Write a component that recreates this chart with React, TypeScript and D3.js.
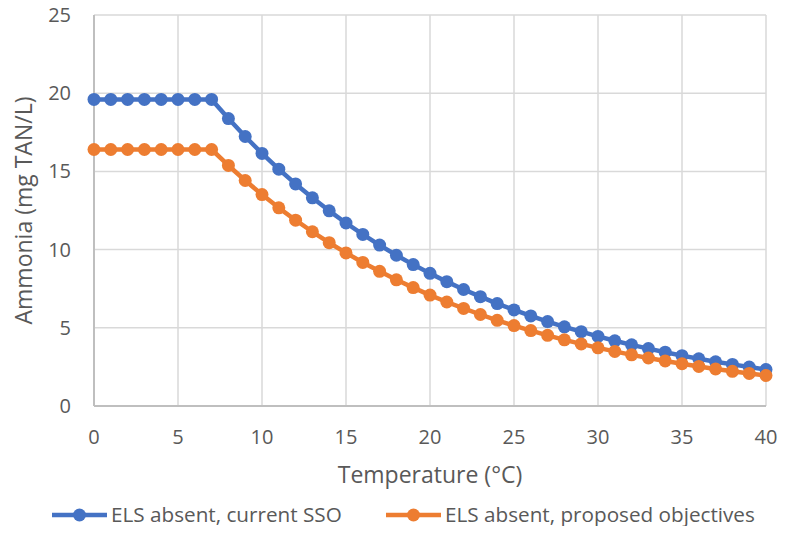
import { useEffect, useRef } from 'react'
import * as d3 from 'd3'

// temperature (°C)
const temperatures = d3.range(0, 41)

// ELS absent, current SSO (mg TAN/L)
const currentSSO = [
  19.6, 19.6, 19.6, 19.6, 19.6, 19.6, 19.6, 19.6, 18.38, 17.23, 16.15, 15.14,
  14.2, 13.31, 12.48, 11.7, 10.97, 10.29, 9.64, 9.04, 8.48, 7.95, 7.45, 6.99,
  6.55, 6.14, 5.76, 5.4, 5.06, 4.75, 4.45, 4.17, 3.91, 3.67, 3.44, 3.22, 3.02,
  2.83, 2.66, 2.49, 2.33,
]

// ELS absent, proposed objectives (mg TAN/L)
const proposedObjectives = [
  16.4, 16.4, 16.4, 16.4, 16.4, 16.4, 16.4, 16.4, 15.38, 14.42, 13.52, 12.67,
  11.88, 11.14, 10.44, 9.79, 9.18, 8.61, 8.07, 7.57, 7.09, 6.65, 6.24, 5.85,
  5.48, 5.14, 4.82, 4.52, 4.23, 3.97, 3.72, 3.49, 3.27, 3.07, 2.88, 2.7, 2.53,
  2.37, 2.22, 2.08, 1.95,
]

const xTicks = [0, 5, 10, 15, 20, 25, 30, 35, 40]
const yTicks = [0, 5, 10, 15, 20, 25]

const seriesNames = ['ELS absent, current SSO', 'ELS absent, proposed objectives']
const seriesColors = ['#4472C4', '#ED7D31']

const App = () => {
  const svgRef = useRef<SVGSVGElement | null>(null)

  useEffect(() => {
    if (!svgRef.current) return
    const svg = d3.select(svgRef.current)
    svg.selectAll('*').remove()

    const width = 787
    const height = 534
    const margin = { top: 15, right: 21, bottom: 128, left: 94 }
    const innerW = width - margin.left - margin.right
    const innerH = height - margin.top - margin.bottom
    const font = '"Open Sans", sans-serif'
    const textColor = '#595959'

    svg.attr('width', width).attr('height', height)

    svg
      .append('rect')
      .attr('width', width)
      .attr('height', height)
      .attr('fill', 'white')

    const g = svg
      .append('g')
      .attr('transform', `translate(${margin.left},${margin.top})`)

    const x = d3.scaleLinear().domain([0, 40]).range([0, innerW])
    const y = d3.scaleLinear().domain([0, 25]).range([innerH, 0])

    // grid lines
    g.append('g')
      .selectAll('line')
      .data(yTicks)
      .join('line')
      .attr('x1', 0)
      .attr('x2', innerW)
      .attr('y1', (d) => y(d))
      .attr('y2', (d) => y(d))
      .attr('stroke', '#D9D9D9')
      .attr('stroke-width', 1.5)

    g.append('g')
      .selectAll('line')
      .data(xTicks)
      .join('line')
      .attr('x1', (d) => x(d))
      .attr('x2', (d) => x(d))
      .attr('y1', 0)
      .attr('y2', innerH)
      .attr('stroke', '#D9D9D9')
      .attr('stroke-width', 1.5)

    // axis lines
    g.append('line')
      .attr('x1', 0)
      .attr('x2', innerW)
      .attr('y1', innerH)
      .attr('y2', innerH)
      .attr('stroke', '#BFBFBF')
      .attr('stroke-width', 2)
    g.append('line')
      .attr('x1', 0)
      .attr('x2', 0)
      .attr('y1', 0)
      .attr('y2', innerH)
      .attr('stroke', '#BFBFBF')
      .attr('stroke-width', 2)

    // tick labels
    g.append('g')
      .selectAll('text')
      .data(yTicks)
      .join('text')
      .attr('x', -23)
      .attr('y', (d) => y(d))
      .attr('dy', '0.35em')
      .attr('text-anchor', 'end')
      .attr('font-family', font)
      .attr('font-size', 20)
      .attr('fill', textColor)
      .text((d) => d)

    g.append('g')
      .selectAll('text')
      .data(xTicks)
      .join('text')
      .attr('x', (d) => x(d))
      .attr('y', innerH + 38)
      .attr('text-anchor', 'middle')
      .attr('font-family', font)
      .attr('font-size', 20)
      .attr('fill', textColor)
      .text((d) => d)

    // axis titles
    svg
      .append('text')
      .attr('x', margin.left + innerW / 2)
      .attr('y', 483)
      .attr('text-anchor', 'middle')
      .attr('font-family', font)
      .attr('font-size', 23)
      .attr('fill', textColor)
      .text('Temperature (°C)')

    svg
      .append('text')
      .attr('transform', `translate(32,${margin.top + innerH / 2}) rotate(-90)`)
      .attr('text-anchor', 'middle')
      .attr('font-family', font)
      .attr('font-size', 23)
      .attr('fill', textColor)
      .text('Ammonia (mg TAN/L)')

    // series
    const allSeries = [currentSSO, proposedObjectives]
    allSeries.forEach((values, i) => {
      const pts = temperatures.map((t, j) => ({ t, v: values[j] }))
      const line = d3
        .line<{ t: number; v: number }>()
        .x((d) => x(d.t))
        .y((d) => y(d.v))
      g.append('path')
        .datum(pts)
        .attr('fill', 'none')
        .attr('stroke', seriesColors[i])
        .attr('stroke-width', 4.5)
        .attr('stroke-linejoin', 'round')
        .attr('d', line)
      g.append('g')
        .selectAll('circle')
        .data(pts)
        .join('circle')
        .attr('cx', (d) => x(d.t))
        .attr('cy', (d) => y(d.v))
        .attr('r', 6.5)
        .attr('fill', seriesColors[i])
    })

    // legend
    const legendX = [52, 386]
    const legendY = 515
    seriesNames.forEach((name, i) => {
      const lg = svg.append('g').attr('transform', `translate(${legendX[i]},${legendY})`)
      lg.append('line')
        .attr('x1', 0)
        .attr('x2', 55)
        .attr('stroke', seriesColors[i])
        .attr('stroke-width', 4.5)
      lg.append('circle').attr('cx', 27.5).attr('r', 6.5).attr('fill', seriesColors[i])
      lg.append('text')
        .attr('x', 59)
        .attr('dy', '0.35em')
        .attr('font-family', font)
        .attr('font-size', 20.7)
        .attr('fill', textColor)
        .text(name)
    })
  }, [])

  return <svg ref={svgRef} style={{ display: 'block', margin: -8 }}></svg>
}

export default App
